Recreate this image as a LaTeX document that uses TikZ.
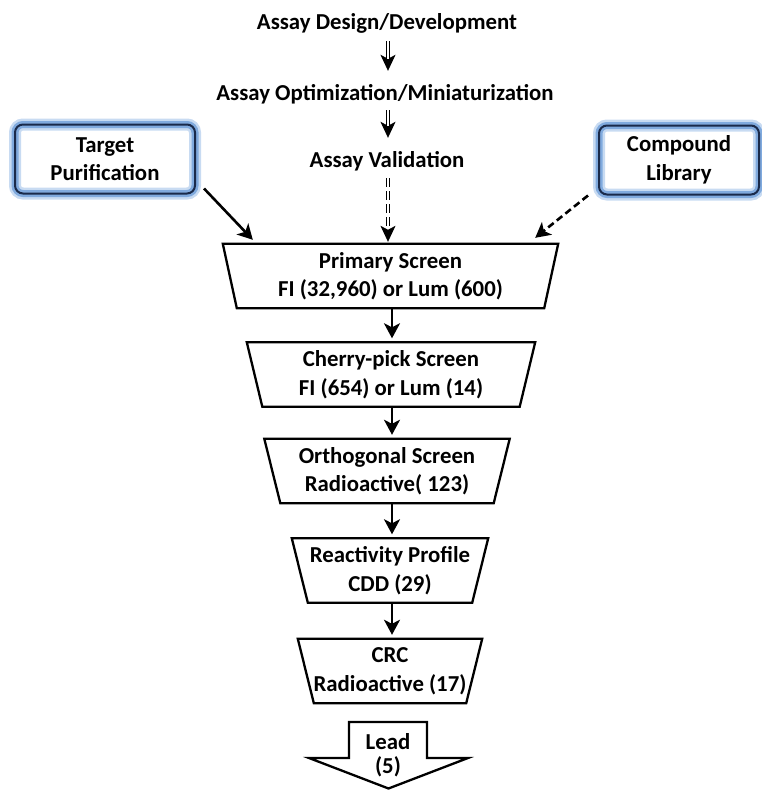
\documentclass[tikz,border=0pt]{standalone}
\usepackage{fontspec}
\setmainfont{Carlito}
\usetikzlibrary{arrows.meta}
\definecolor{navy}{RGB}{26,42,74}
\definecolor{glowA}{RGB}{128,170,222}
\definecolor{glowB}{RGB}{200,219,242}
\begin{document}
\begin{tikzpicture}[x=1pt,y=-1pt,
  lbl/.style={font=\bfseries\fontsize{22.8}{28.5}\selectfont, align=center, inner sep=0pt},
  toptext/.style={lbl, anchor=base, text height=16pt, text depth=5pt},
  stagenode/.style={lbl, minimum height=64pt},
  stage/.style={draw=black, line width=2.3pt, line join=miter},
  flow/.style={line width=2.6pt, -{Stealth[length=15pt,width=16pt,inset=4pt]}},
  thinhead/.style={line width=0.8pt, -{Stealth[length=16pt,width=15pt,inset=4pt]}},
  dbl/.style={line width=0.8pt, double=white, double distance=1.6pt},
  sidebox/.style={lbl, minimum width=#1, minimum height=69pt, rounded corners=8pt,
     draw=navy, line width=2pt,
     preaction={draw=glowB, line width=12pt},
     preaction={draw=glowA, line width=7pt}},
]
\useasboundingbox (0,0) rectangle (761,790);

% top texts
\node[toptext] (t1) at (387,29.5) {Assay Design/Development};
\node[toptext] (t2) at (385,100) {Assay Optimization/Miniaturization};
\node[toptext] (t3) at (387,167) {Assay Validation};

% side boxes
\node[sidebox=180pt] (tp) at (105,159) {Target\\Purification};
\node[sidebox=160pt] (cl) at (679,160) {Compound\\Library};

% stages
\node[stagenode, minimum width=335pt] (prim) at (390.5,276) {Primary Screen\\FI (32,960) or Lum (600)};
\node[stagenode, minimum width=288pt] (cher) at (391,374.5) {Cherry-pick Screen\\FI (654) or Lum (14)};
\node[stagenode, minimum width=245pt] (orth) at (387,471) {Orthogonal Screen\\Radioactive( 123)};
\node[stagenode, minimum width=196pt] (reac) at (390,570.5) {Reactivity Profile\\CDD (29)};
\node[stagenode, minimum width=184pt] (crc) at (390,671) {CRC\\Radioactive (17)};

\draw[stage] (prim.north west) -- (prim.north east) -- ([xshift=-14pt]prim.south east) -- ([xshift=14pt]prim.south west) -- cycle;
\draw[stage] (cher.north west) -- (cher.north east) -- ([xshift=-15.5pt]cher.south east) -- ([xshift=15.5pt]cher.south west) -- cycle;
\draw[stage] (orth.north west) -- (orth.north east) -- ([xshift=-16pt]orth.south east) -- ([xshift=16pt]orth.south west) -- cycle;
\draw[stage] (reac.north west) -- (reac.north east) -- ([xshift=-16pt]reac.south east) -- ([xshift=16pt]reac.south west) -- cycle;
\draw[stage] (crc.north west) -- (crc.north east) -- ([xshift=-16pt]crc.south east) -- ([xshift=16pt]crc.south west) -- cycle;

% lead arrow
\node[lbl] (lead) at (388,755) {Lead\\[-4pt](5)};
\draw[stage] (349,722) -- (427,722) -- (427,758) -- (468,758) -- (388.5,788.5) -- (309,758) -- (349,758) -- cycle;

% top double arrows
\draw[thinhead, shorten <=6.5pt, shorten >=13pt] ([xshift=1pt]t1.south) -- ([xshift=1pt]t1.south |- t2.north);
\draw[dbl, shorten <=6.5pt, shorten >=25pt] ([xshift=1pt]t1.south) -- ([xshift=1pt]t1.south |- t2.north);
\draw[thinhead, shorten <=5pt, shorten >=13pt] ([xshift=1pt]t2.south -| t3.south) -- ([xshift=1pt]t3.north);
\draw[dbl, shorten <=5pt, shorten >=25pt] ([xshift=1pt]t2.south -| t3.south) -- ([xshift=1pt]t3.north);
\draw[thinhead, dash pattern=on 9pt off 4pt, shorten <=6pt, shorten >=2pt] ([xshift=1pt]t3.south) -- ([xshift=1pt]t3.south |- prim.north);
\draw[dbl, dash pattern=on 9pt off 4pt, shorten <=6pt, shorten >=15pt] ([xshift=1pt]t3.south) -- ([xshift=1pt]t3.south |- prim.north);

% side arrows
\draw[flow] ([xshift=8pt,yshift=6pt]tp.south east) -- ([xshift=30pt,yshift=4pt]prim.north west);
\draw[flow, dash pattern=on 7pt off 4pt] ([xshift=-10pt]cl.south west) -- ([xshift=-23pt,yshift=6pt]prim.north east);

% stage arrows
\draw[flow, shorten >=4pt] ([xshift=1.5pt]prim.south) -- ([xshift=1.5pt]prim.south |- cher.north);
\draw[flow, shorten >=4pt] ([xshift=1pt]cher.south) -- ([xshift=1pt]cher.south |- orth.north);
\draw[flow, shorten >=4pt] ([xshift=1pt]cher.south |- orth.south) -- ([xshift=1pt]cher.south |- reac.north);
\draw[flow, shorten >=4pt] ([xshift=2pt]reac.south) -- ([xshift=2pt]reac.south |- crc.north);
\end{tikzpicture}
\end{document}
